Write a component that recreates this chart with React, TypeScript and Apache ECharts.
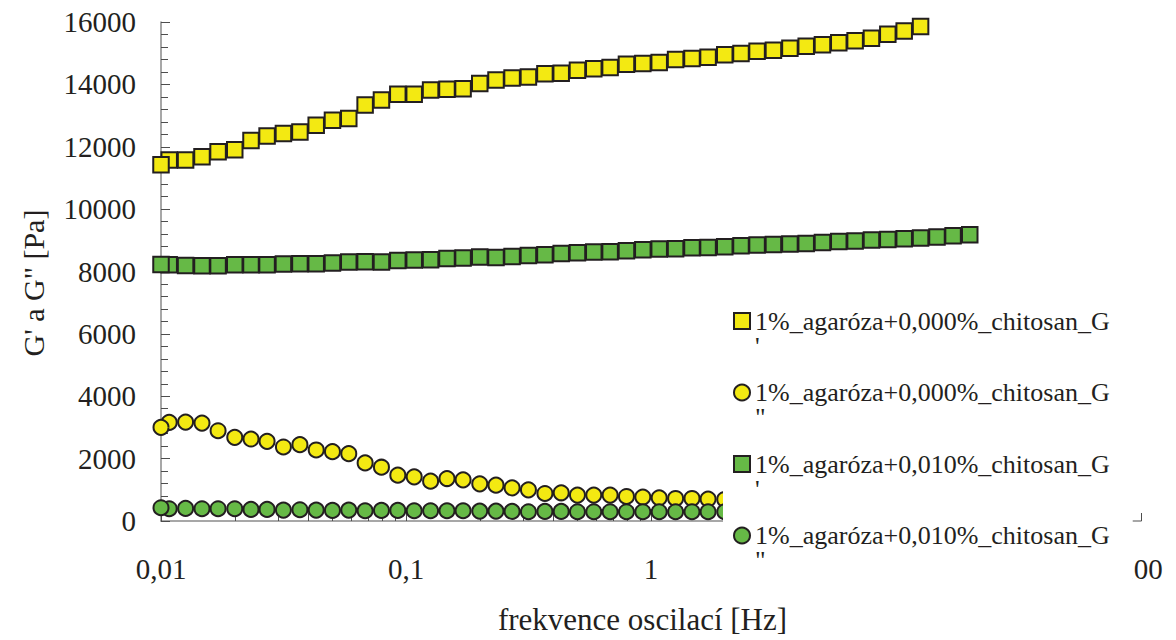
import React, { useEffect, useRef } from "react";
import * as echarts from "echarts";

const FONT = "Liberation Serif";
const INK = "#231f20";
const YELLOW = "#f3e912";
const GREEN = "#66b946";

const freq = [
  0.01, 0.0108, 0.0126, 0.0147, 0.0171, 0.02, 0.0233, 0.0271, 0.0316, 0.0369, 0.043, 0.0501, 0.0584, 0.0681, 0.0794, 0.0926,
  0.108, 0.126, 0.147, 0.171, 0.2, 0.233, 0.271, 0.316, 0.369, 0.43, 0.501, 0.584, 0.681, 0.794, 0.926,
  1.08, 1.26, 1.47, 1.71, 2.0, 2.33, 2.71, 3.16, 3.69, 4.3, 5.01, 5.84, 6.81, 7.94, 9.26,
  10.8, 12.6, 14.7, 17.1, 20.0,
];

const seriesNames = [
  "1%_agaróza+0,000%_chitosan_G'",
  '1%_agaróza+0,000%_chitosan_G"',
  "1%_agaróza+0,010%_chitosan_G'",
  '1%_agaróza+0,010%_chitosan_G"',
];

// G' 0,000 % chitosan
const gPrime0 = [
  11422, 11572, 11572, 11677, 11837, 11901, 12201, 12348, 12425, 12476, 12690, 12849, 12904, 13338, 13498, 13680,
  13680, 13817, 13840, 13862, 14031, 14137, 14201, 14233, 14341, 14360, 14456, 14501, 14542, 14648, 14670,
  14702, 14798, 14830, 14871, 14948, 14990, 15063, 15095, 15159, 15223, 15267, 15331, 15395, 15478, 15606,
  15714, 15852,
];
// G'' 0,000 % chitosan
const gDouble0 = [
  3002, 3162, 3172, 3140, 2894, 2683, 2629, 2555, 2373, 2447, 2277, 2223, 2159, 1862, 1725, 1469,
  1415, 1278, 1361, 1319, 1191, 1150, 1064, 1000, 882, 904, 830, 830, 830, 786, 767,
  744, 722, 722, 703, 690,
];
// G' 0,010 % chitosan
const gPrime1 = [
  8228, 8218, 8196, 8186, 8186, 8218, 8218, 8218, 8241, 8250, 8250, 8272, 8304, 8314, 8304, 8356,
  8368, 8378, 8420, 8432, 8464, 8451, 8483, 8515, 8538, 8579, 8601, 8624, 8633, 8665, 8697,
  8720, 8729, 8761, 8771, 8793, 8825, 8847, 8867, 8879, 8899, 8930, 8962, 8975, 9007, 9026,
  9049, 9071, 9103, 9145, 9177,
];
// G'' 0,010 % chitosan
const gDouble1 = [
  425, 393, 403, 393, 393, 393, 372, 372, 350, 361, 350, 340, 350, 329, 340, 340,
  329, 329, 329, 329, 318, 318, 308, 297, 308, 308, 297, 297, 297, 297, 297,
  297, 297, 297, 297, 297,
];

// minor (log) tick positions of the frequency axis
const minorFreqTicks = [
  0.02, 0.03, 0.04, 0.05, 0.06, 0.07, 0.08, 0.09,
  0.2, 0.3, 0.4, 0.5, 0.6, 0.7, 0.8, 0.9,
  2, 3, 4, 5, 6, 7, 8, 9,
  20, 30, 40, 50, 60, 70, 80, 90,
];

const pairs = (vals: number[]) => vals.map((v, i) => [freq[i], v]).reverse();

export default function App() {
  const ref = useRef<HTMLDivElement>(null);
  useEffect(() => {
    if (!ref.current) return;
    const chart = echarts.init(ref.current, null, { renderer: "svg" });
    const mk = (name: string, symbol: string, color: string, vals: number[], size: number) => ({
      type: "scatter",
      name,
      symbol,
      symbolSize: size,
      itemStyle: { color, borderColor: INK, borderWidth: 2, opacity: 1 },
      emphasis: { disabled: true },
      data: pairs(vals),
      z: 2,
    });
    const option: any = {
      animation: false,
      backgroundColor: "#ffffff",
      textStyle: { fontFamily: FONT, color: INK },
      grid: { left: 161, right: 35, top: 22, bottom: 117, containLabel: false },
      xAxis: {
        type: "log",
        logBase: 10,
        min: 0.01,
        max: 100,
        name: "frekvence oscilací [Hz]",
        nameLocation: "middle",
        nameGap: 83,
        nameTextStyle: { fontSize: 31, color: INK, fontFamily: FONT, padding: [0, 17, 0, 0] },
        axisLine: { show: true, lineStyle: { color: "#8a8a8a", width: 1.5 } },
        axisTick: { show: true, inside: true, length: 8, lineStyle: { color: "#4d4d4d", width: 1 } },
        axisLabel: {
          fontSize: 29,
          color: INK,
          fontFamily: FONT,
          margin: 33,
          formatter: (v: number) => String(v).replace(".", ","),
        },
        splitLine: { show: false },
      },
      yAxis: {
        type: "value",
        min: 0,
        max: 16000,
        interval: 2000,
        name: 'G\' a G" [Pa]',
        nameLocation: "middle",
        nameGap: 113,
        nameTextStyle: { fontSize: 30, color: INK, fontFamily: FONT, padding: [0, 23, 0, 0] },
        axisLine: { show: true, lineStyle: { color: "#8a8a8a", width: 1.5 } },
        axisTick: { show: true, inside: true, length: 9, lineStyle: { color: "#4d4d4d", width: 1 } },
        minorTick: { show: true, splitNumber: 5, length: 7, lineStyle: { color: "#4d4d4d", width: 1 } },
        axisLabel: { fontSize: 29, color: INK, fontFamily: FONT, margin: 25, formatter: (v: number) => String(v) },
        splitLine: { show: false },
      },
      legend: {
        orient: "vertical",
        left: 723,
        top: 273,
        padding: [10, 23, 21, 10],
        itemGap: -4.5,
        itemWidth: 16,
        itemHeight: 16,
        backgroundColor: "#ffffff",
        selectedMode: false,
        z: 4,
        data: [
          { name: seriesNames[0], icon: "rect" },
          { name: seriesNames[1], icon: "circle" },
          { name: seriesNames[2], icon: "rect" },
          { name: seriesNames[3], icon: "circle" },
        ],
        formatter: (name: string) => `\n${name.slice(0, -1)}\n${name.slice(-1)}`,
        textStyle: {
          color: INK,
          fontFamily: FONT,
          fontSize: 26,
          lineHeight: 25,
          padding: [0, 0, 0, 0],
        },
      },
      series: [
        {
          type: "line",
          name: "minor-ticks",
          data: [],
          silent: true,
          z: 1,
          markLine: {
            silent: true,
            z: 1,
            symbol: ["none", "none"],
            label: { show: false },
            lineStyle: { color: "#4d4d4d", width: 1, type: "solid" },
            emphasis: { disabled: true },
            data: minorFreqTicks.map((v) => [{ coord: [v, 0] }, { coord: [v, 256] }]),
          },
        },
        mk(seriesNames[0], "rect", YELLOW, gPrime0, 15.5),
        mk(seriesNames[1], "circle", YELLOW, gDouble0, 15),
        mk(seriesNames[2], "rect", GREEN, gPrime1, 15.5),
        mk(seriesNames[3], "circle", GREEN, gDouble1, 15),
      ],
    };
    chart.setOption(option);
    return () => chart.dispose();
  }, []);
  return (
    <div
      ref={ref}
      style={{ position: "fixed", left: 0, top: 0, width: 1176, height: 640, background: "#fff" }}
    />
  );
}
